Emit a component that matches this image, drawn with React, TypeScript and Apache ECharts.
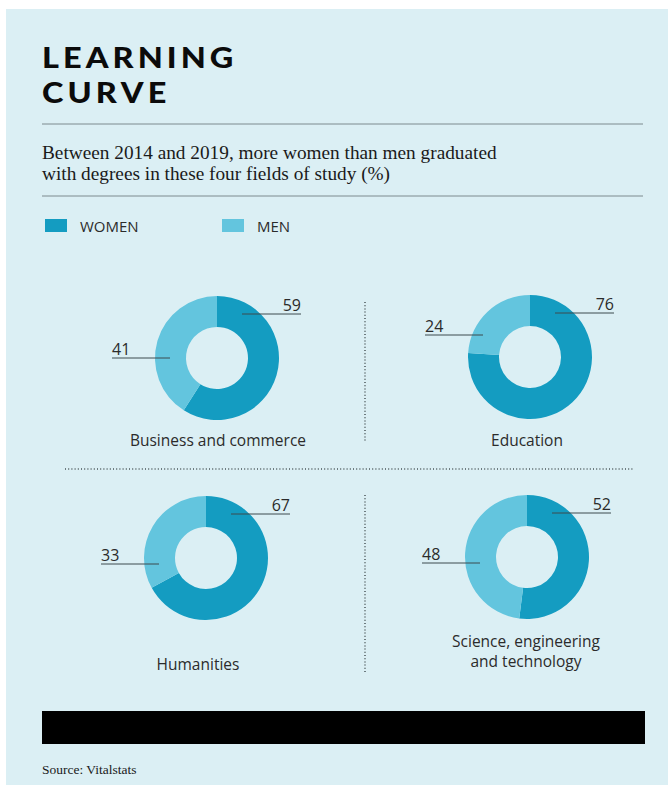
import React, { useEffect, useRef } from 'react';
import * as echarts from 'echarts';

const categories = ['Business and commerce', 'Education', 'Humanities', 'Science, engineering\nand technology'];
const seriesNames = ['WOMEN', 'MEN'];
const women = [59, 76, 67, 52];
const men = [41, 24, 33, 48];

const COLORS = ['#149cc1', '#63c5de'];
const BG = '#dbeff4';
const SANS = '"Open Sans", Lato, "Noto Sans", sans-serif';
const TITLE = 'Lato, "Noto Sans", sans-serif';
const SERIF = '"Liberation Serif", "DejaVu Serif", serif';

const layout = [
  { cx: 217, cy: 358, menDy: 0, labelX: 218, labelY: 440 },
  { cx: 530, cy: 357, menDy: -22, labelX: 527, labelY: 440 },
  { cx: 206, cy: 558, menDy: 6, labelX: 198, labelY: 664 },
  { cx: 527, cy: 557, menDy: 6, labelX: 526, labelY: 651 },
];

export default function App() {
  const ref = useRef<HTMLDivElement>(null);
  useEffect(() => {
    document.body.style.margin = '0';
    const chart = echarts.init(ref.current!, null, { renderer: 'svg' });
    const spaced = (s: string) => s.split('').join('\u2009');
    const dotted = { stroke: '#4a5558', lineWidth: 1.5, lineDash: [1, 2.2] };
    const graphic: any[] = [
      { type: 'rect', shape: { x: 6, y: 9, width: 662, height: 776 }, style: { fill: BG }, silent: true, z: -10 },
      { type: 'text', x: 42, y: 40, scaleX: 1.12, style: { text: spaced('LEARNING') + '\n' + spaced('CURVE'), font: `900 29px ${TITLE}`, fill: '#0b0b0b', lineHeight: 35 } },
      { type: 'line', shape: { x1: 42, y1: 124, x2: 643, y2: 124 }, style: { stroke: '#7d8a8e', lineWidth: 1 } },
      { type: 'text', x: 42, y: 142, style: { text: 'Between 2014 and 2019, more women than men graduated\nwith degrees in these four fields of study (%)', font: `19.3px ${SERIF}`, fill: '#1a1a1a', lineHeight: 21 } },
      { type: 'line', shape: { x1: 42, y1: 196, x2: 643, y2: 196 }, style: { stroke: '#7d8a8e', lineWidth: 1 } },
      { type: 'line', shape: { x1: 365, y1: 302, x2: 365, y2: 441 }, style: dotted },
      { type: 'line', shape: { x1: 365, y1: 495, x2: 365, y2: 672 }, style: dotted },
      { type: 'line', shape: { x1: 65, y1: 469, x2: 634, y2: 469 }, style: dotted },
      { type: 'rect', shape: { x: 42, y: 711, width: 603, height: 33 }, style: { fill: '#000' } },
      { type: 'text', x: 42, y: 762, style: { text: 'Source: Vitalstats', font: `13.5px ${SERIF}`, fill: '#1a1a1a' } },
    ];
    categories.forEach((c, i) => {
      const L = layout[i];
      graphic.push({
        type: 'text', x: L.labelX, y: L.labelY,
        style: { text: c, font: `15.5px ${SANS}`, fill: '#2b2b2b', textAlign: 'center', textVerticalAlign: 'middle', lineHeight: 20 },
      });
    });

    const base = categories.map((c, i) => {
      const L = layout[i];
      return {
        type: 'pie',
        name: c,
        z: 2,
        center: [L.cx, L.cy],
        radius: [31, 62],
        startAngle: 90,
        clockwise: true,
        silent: true,
        emphasis: { disabled: true },
        label: { show: false },
        labelLine: { show: false },
        data: [
          { name: seriesNames[0], value: women[i] },
          { name: seriesNames[1], value: men[i] },
        ],
      };
    });

    const overlay = categories.map((c, i) => {
      const L = layout[i];
      return {
        type: 'pie',
        name: c + ' labels',
        z: 5,
        center: [L.cx, L.cy],
        radius: [31, 62],
        startAngle: 90,
        clockwise: true,
        silent: true,
        avoidLabelOverlap: false,
        emphasis: { disabled: true },
        itemStyle: { color: 'rgba(0,0,0,0)' },
        data: [
          { name: seriesNames[0], value: women[i] },
          { name: seriesNames[1], value: men[i] },
        ],
        label: { show: true, position: 'outside', formatter: '{c}', fontFamily: SANS, fontSize: 16, color: '#2b2b2b' },
        labelLine: { show: true, length: 10, length2: 10, lineStyle: { color: '#3c4a4f', width: 1 } },
        labelLayout: (p: any) => {
          if (p.dataIndex === 0) {
            const y = L.cy - 44;
            return {
              x: L.cx + 84, y: y - 1, align: 'right', verticalAlign: 'bottom',
              labelLinePoints: [[L.cx + 25, y], [L.cx + 55, y], [L.cx + 84, y]],
            };
          }
          const y = L.cy + L.menDy;
          return {
            x: L.cx - 105, y: y - 1, align: 'left', verticalAlign: 'bottom',
            labelLinePoints: [[L.cx - 47, y], [L.cx - 76, y], [L.cx - 105, y]],
          };
        },
      };
    });

    const legendText = { fontFamily: SANS, fontSize: 15, color: '#2b2b2b', padding: [0, 0, 0, 8] };
    chart.setOption({
      animation: false,
      backgroundColor: '#ffffff',
      color: COLORS,
      legend: [
        { data: [seriesNames[0]], left: 40, top: 213, itemWidth: 22, itemHeight: 13, icon: 'rect', selectedMode: false, textStyle: legendText },
        { data: [seriesNames[1]], left: 217, top: 213, itemWidth: 22, itemHeight: 13, icon: 'rect', selectedMode: false, textStyle: legendText },
      ],
      graphic,
      series: [...base, ...overlay],
    });
    return () => chart.dispose();
  }, []);
  return <div ref={ref} style={{ width: 668, height: 785 }} />;
}
